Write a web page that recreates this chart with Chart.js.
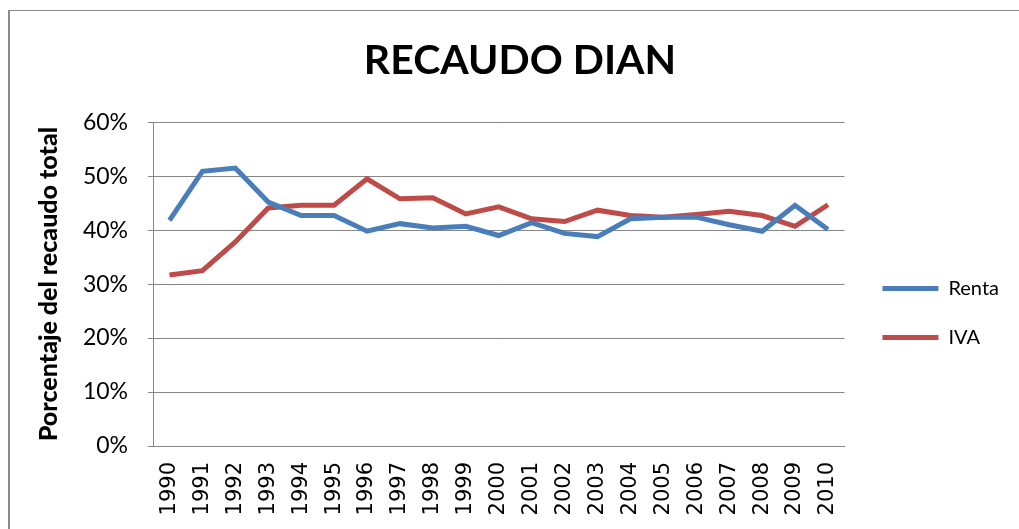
<!DOCTYPE html>
<html>
<head>
<meta charset="utf-8">
<script src="https://cdn.jsdelivr.net/npm/chart.js@4"></script>
<style>
  body { margin: 0; background: #fff; overflow: hidden; }
  #wrap { position: relative; width: 1019px; height: 529px; }
  #marco { position: absolute; left: 8px; top: 10px; width: 1100px; height: 600px;
           border-left: 2px solid #8a8a8a; border-top: 1px solid #8a8a8a; }
  canvas { position: absolute; left: 0; top: 0; }
</style>
</head>
<body>
<div id="wrap">
  <div id="marco"></div>
  <canvas id="grafico" width="1019" height="529"></canvas>
</div>
<script>
const anios = ["1990","1991","1992","1993","1994","1995","1996","1997","1998","1999","2000",
               "2001","2002","2003","2004","2005","2006","2007","2008","2009","2010"];
const renta = [41.8, 50.9, 51.5, 45.2, 42.7, 42.7, 39.8, 41.2, 40.4, 40.7, 39.0,
               41.4, 39.4, 38.8, 42.1, 42.4, 42.4, 41.0, 39.8, 44.6, 40.1];
const iva = [31.7, 32.5, 37.8, 44.1, 44.6, 44.6, 49.5, 45.8, 46.0, 43.0, 44.3,
             42.1, 41.6, 43.7, 42.7, 42.4, 42.9, 43.5, 42.7, 40.7, 44.7];

const gris = "#868686";

// ajustes finos de posición: leyenda y título un poco a la derecha
const ajustes = {
  id: "ajustes",
  afterLayout(chart) {
    chart.legend.left += 9;
    chart.titleBlock.left += 20;
  }
};

new Chart(document.getElementById("grafico"), {
  type: "line",
  data: {
    labels: anios,
    datasets: [
      { label: "Renta", data: renta, borderColor: "#4A7EBB", backgroundColor: "#4A7EBB",
        borderWidth: 5, pointRadius: 0, tension: 0 },
      { label: "IVA", data: iva, borderColor: "#BE4B48", backgroundColor: "#BE4B48",
        borderWidth: 5, pointRadius: 0, tension: 0 }
    ]
  },
  options: {
    responsive: false,
    animation: false,
    layout: { padding: { left: 20, top: 10, right: 19, bottom: 0 } },
    scales: {
      x: {
        offset: true,
        grid: { display: false, drawTicks: false },
        border: { display: true, color: gris, width: 1 },
        ticks: {
          minRotation: 90, maxRotation: 90, padding: 16, autoSkip: false,
          font: { family: "DejaVu Sans", size: 21 }, color: "#000"
        },
        afterFit(scale) { scale.height = 83; }
      },
      y: {
        min: 0, max: 60,
        grid: { color: gris, lineWidth: 1, tickLength: 5 },
        border: { display: true, color: gris, width: 1 },
        ticks: {
          stepSize: 10, padding: 20,
          font: { family: "Lato", size: 23 }, color: "#000",
          callback: v => v + "%"
        },
        title: {
          display: true, text: "Porcentaje del recaudo total",
          font: { family: "Lato", size: 25, weight: "900" }, color: "#000",
          padding: { top: 14, bottom: 0 }
        },
        afterFit(scale) { scale.width = 133; }
      }
    },
    plugins: {
      title: {
        display: true, text: "RECAUDO DIAN",
        font: { family: "Lato", size: 41, weight: "bold" }, color: "#000",
        padding: { top: 26, bottom: 37 }
      },
      legend: {
        position: "right",
        title: { display: true, text: " ", font: { size: 10 }, padding: { top: 75, bottom: 0 } },
        labels: {
          usePointStyle: true, pointStyle: "line", pointStyleWidth: 56,
          padding: 29, color: "#000",
          font: { family: "Lato", size: 20 }
        }
      },
      tooltip: { enabled: false }
    }
  },
  plugins: [ajustes]
});
</script>
</body>
</html>
